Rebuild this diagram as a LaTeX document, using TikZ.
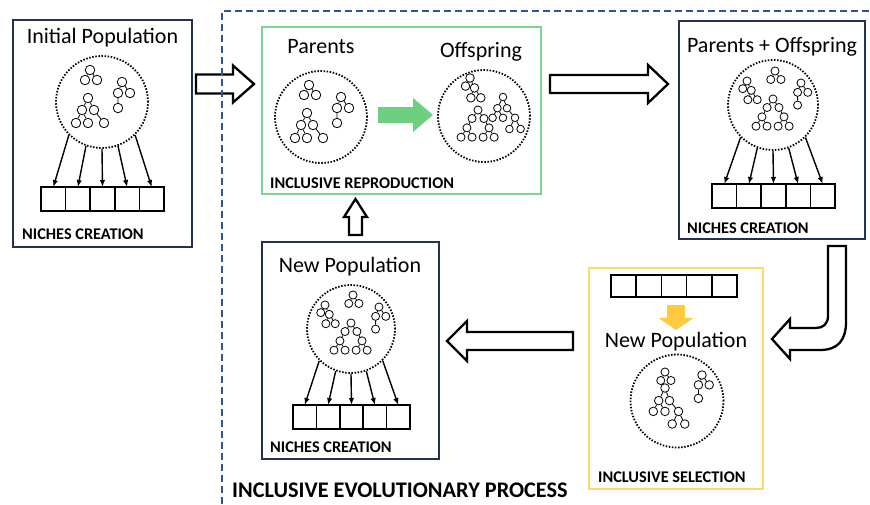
\documentclass[tikz,border=0pt]{standalone}
\usepackage{fontspec}
\setmainfont{Carlito}
\usetikzlibrary{calc,positioning,arrows.meta}
\definecolor{framenavy}{RGB}{37,48,82}
\definecolor{procblue}{RGB}{47,85,151}
\definecolor{repgreen}{RGB}{124,212,140}
\definecolor{repfill}{RGB}{108,208,128}
\definecolor{selyellow}{RGB}{255,216,100}
\definecolor{selfill}{RGB}{255,202,62}
\tikzset{
  stagebox/.style={draw=framenavy,line width=2pt,inner sep=0pt},
  popcirc/.style={circle,draw,line width=1.8pt,dash pattern=on 1.5pt off 1.6pt,inner sep=0pt},
  tn/.style={circle,draw,line width=0.8pt,inner sep=0pt,minimum size=9.5pt},
  tl/.style={line width=0.8pt},
  cell/.style={draw,line width=1.6pt,inner sep=0pt,outer sep=0pt},
  fan/.style={line width=1.4pt,-{Latex[length=7pt,width=5.5pt]}},
  hollow/.style={draw,line width=2.3pt,line join=miter},
  head/.style={font=\fontsize{22}{26}\selectfont,anchor=base,inner sep=0pt},
  tag/.style={font=\fontsize{16.3}{19}\selectfont\bfseries,anchor=base west,inner sep=0pt},
  procline/.style={draw=procblue,line width=2pt,dash pattern=on 7pt off 4pt},
}
% little program trees
\tikzset{
  treeA/.pic={
    \node[tn] (-r) at (0,0) {};
    \node[tn] (-a) at (-5,10) {};
    \node[tn] (-b) at (7,10) {};
    \draw[tl] (-r) -- (-a) (-r) -- (-b);
  },
  treeB/.pic={
    \node[tn] (-r) at (0,0) {};
    \node[tn] (-a) at (-4,11) {};
    \node[tn] (-b) at (8,11) {};
    \node[tn] (-c) at (-4,26) {};
    \draw[tl] (-r) -- (-a) (-r) -- (-b) (-a) -- (-c);
  },
  treeC/.pic={
    \node[tn] (-r) at (0,0) {};
    \node[tn] (-a) at (-6,12) {};
    \node[tn] (-b) at (6,12) {};
    \node[tn] (-c) at (-12,25) {};
    \node[tn] (-d) at (0,25) {};
    \node[tn] (-e) at (16,25) {};
    \draw[tl] (-r) -- (-a) (-r) -- (-b) (-a) -- (-c) (-a) -- (-d) (-b) -- (-e);
  },
  treeD/.pic={
    \node[tn] (-r) at (0,0) {};
    \node[tn] (-a) at (-5,9) {};
    \node[tn] (-b) at (5,11) {};
    \node[tn] (-c) at (1,22) {};
    \node[tn] (-d) at (12,22) {};
    \draw[tl] (-r) -- (-a) (-r) -- (-b) (-b) -- (-c) (-b) -- (-d);
  },
  treeF/.pic={
    \node[tn] (-r) at (0,0) {};
    \node[tn] (-a) at (-7,10) {};
    \node[tn] (-b) at (7,10) {};
    \node[tn] (-c) at (-13,21) {};
    \node[tn] (-d) at (13,21) {};
    \node[tn] (-e) at (-20,32) {};
    \node[tn] (-f) at (-7,32) {};
    \node[tn] (-g) at (6,32) {};
    \node[tn] (-h) at (19,32) {};
    \draw[tl] (-r) -- (-a) (-r) -- (-b) (-a) -- (-c) (-b) -- (-d)
      (-c) -- (-e) (-c) -- (-f) (-d) -- (-g) (-d) -- (-h);
  },
  treeG/.pic={
    \node[tn] (-r) at (0,0) {};
    \node[tn] (-a) at (-7,14) {};
    \node[tn] (-b) at (5,14) {};
    \node[tn] (-c) at (-13,26) {};
    \node[tn] (-d) at (0,26) {};
    \node[tn] (-e) at (15,26) {};
    \node[tn] (-f) at (8,40) {};
    \node[tn] (-g) at (22,40) {};
    \draw[tl] (-r) -- (-a) (-r) -- (-b) (-a) -- (-c) (-a) -- (-d)
      (-b) -- (-e) (-e) -- (-f) (-e) -- (-g);
  },
}
\newcommand{\popthree}[1]{%
  \pic (#1a) at ($(#1)+(-12,-32)$) {treeA};
  \pic (#1b) at ($(#1)+(20,-20)$) {treeB};
  \pic (#1c) at ($(#1)+(-14,-4)$) {treeC};}
\newcommand{\popmixed}[1]{%
  \pic[scale=.85,transform shape] (#1a) at ($(#1)+(2,-34)$) {treeA};
  \pic[scale=.85,transform shape] (#1d) at ($(#1)+(-26,-24)$) {treeD};
  \pic[scale=.85,transform shape] (#1b) at ($(#1)+(28,-22)$) {treeB};
  \pic[scale=.85,transform shape] (#1f) at ($(#1)+(0,-6)$) {treeF};}
\newcommand{\cellrow}[5]{%
  \foreach \i in {1,...,5}{%
    \node[cell,minimum width=#4pt,minimum height=#5pt] (#1\i) at ({#2+(\i-3)*#4},#3) {};}}
\newcommand{\niches}[6]{%
  \cellrow{#1}{#3}{#4}{#5}{#6}
  \foreach \i/\a in {1/225,2/250,3/270,4/290,5/315}
    \draw[fan] (#2.\a) -- (#1\i.north);}
\newcommand{\fatarrow}[5]{%
  \draw[#1] (0,-#3) -- ({#2-#5},-#3) -- ({#2-#5},-#4) -- (#2,0)
    -- ({#2-#5},#4) -- ({#2-#5},#3) -- (0,#3) -- cycle;}

\begin{document}
\begin{tikzpicture}[x=1pt,y=-1pt]
  \useasboundingbox (0,0) rectangle (870,504);
  % stage frames
  \node[stagebox,minimum width=179pt,minimum height=227pt] (initbox) at (102.5,133.5) {};
  \node[stagebox,draw=repgreen,line width=2.5pt,minimum width=279pt,minimum height=167pt] (repbox) at (401.5,110.5) {};
  \node[stagebox,minimum width=186pt,minimum height=218pt] (bothbox) at (772,130) {};
  \node[stagebox,draw=selyellow,line width=2.5pt,minimum width=174pt,minimum height=221pt] (selbox) at (676,378.5) {};
  \node[stagebox,minimum width=177pt,minimum height=217pt] (newbox) at (350.5,350.5) {};

  % populations
  \node[popcirc,minimum size=92pt] (init) at (102,102) {};
  \node[popcirc,minimum size=92pt] (par) at (321,117) {};
  \node[popcirc,minimum size=92pt] (off) at (484,116) {};
  \node[popcirc,minimum size=90pt] (both) at (773,105) {};
  \node[popcirc,minimum size=88pt] (newp) at (351,329) {};
  \node[popcirc,minimum size=93pt] (sel) at (677,401) {};
  \popthree{init}
  \popthree{par}
  \pic[scale=.9,transform shape] (offd) at ($(off)+(-14,-38)$) {treeD};
  \pic[scale=.8,transform shape] (offg) at ($(off)+(19,-19)$) {treeG};
  \pic[scale=.85,transform shape] (offf) at ($(off)+(-6,-6)$) {treeF};
  \popmixed{both}
  \popmixed{newp}
  \pic[scale=.85,transform shape] (sela) at ($(sel)+(-12,-29)$) {treeA};
  \pic[scale=.9,transform shape] (selb) at ($(sel)+(25,-26)$) {treeB};
  \pic[scale=.9,transform shape] (selg) at ($(sel)+(-12,-13)$) {treeG};

  % niches
  \niches{ic}{init}{102.5}{199}{24.6}{24}
  \niches{bc}{both}{773.5}{196}{24.6}{24}
  \niches{nc}{newp}{351.5}{417}{23.4}{24}
  \cellrow{sc}{674}{286}{25.2}{22}

  % titles
  \node[head] (tinit) at (102.5,43) {Initial Population};
  \node[head] (tpar) at (321,53) {Parents};
  \node[head] (toff) at (481,57) {Offspring};
  \node[head] (tboth) at (772,52) {Parents + Offspring};
  \node[head] (tnewp) at (350,272) {New Population};
  \node[head] (tsel) at (676,347) {New Population};
  \node[tag] (ninit) at (22,239) {NICHES CREATION};
  \node[tag] (nboth) at (687,233) {NICHES CREATION};
  \node[tag] (nnewp) at (270,452) {NICHES CREATION};
  \node[tag] (trep) at (270,188) {INCLUSIVE REPRODUCTION};
  \node[tag] (tselc) at (598,482) {INCLUSIVE SELECTION};

  % flow
  \fatarrow{hollow,shift={(196,84)}}{58}{9.5}{18.5}{21}
  \fatarrow{hollow,shift={(550,84)}}{118}{9}{19}{20}
  \fatarrow{hollow,shift={(573,341)},rotate=180}{126}{9}{20}{20}
  \fatarrow{hollow,shift={(355.5,235)},rotate=90}{36}{6.5}{11.5}{18}
  \fatarrow{draw=none,fill=repfill,shift={(378,115)}}{55}{8}{17}{20}
  \fatarrow{draw=none,fill=selfill,shift={(676,305)},rotate=-90}{25}{9}{17.5}{12}
  \draw[hollow] (828,246) -- (846,246) -- (846,322) .. controls (846,340) and (838,350) .. (820,350)
    -- (790,350) -- (790,359) -- (772,339) -- (790,319) -- (790,328) -- (816,328)
    .. controls (823,328) and (828,324) .. (828,316) -- cycle;

  \draw[procline] (222,504) -- (222,11) -- (870,11);
  \node[tag,font=\fontsize{22.3}{26}\selectfont\bfseries] (tproc) at (232,497) {INCLUSIVE EVOLUTIONARY PROCESS};
\end{tikzpicture}
\end{document}
